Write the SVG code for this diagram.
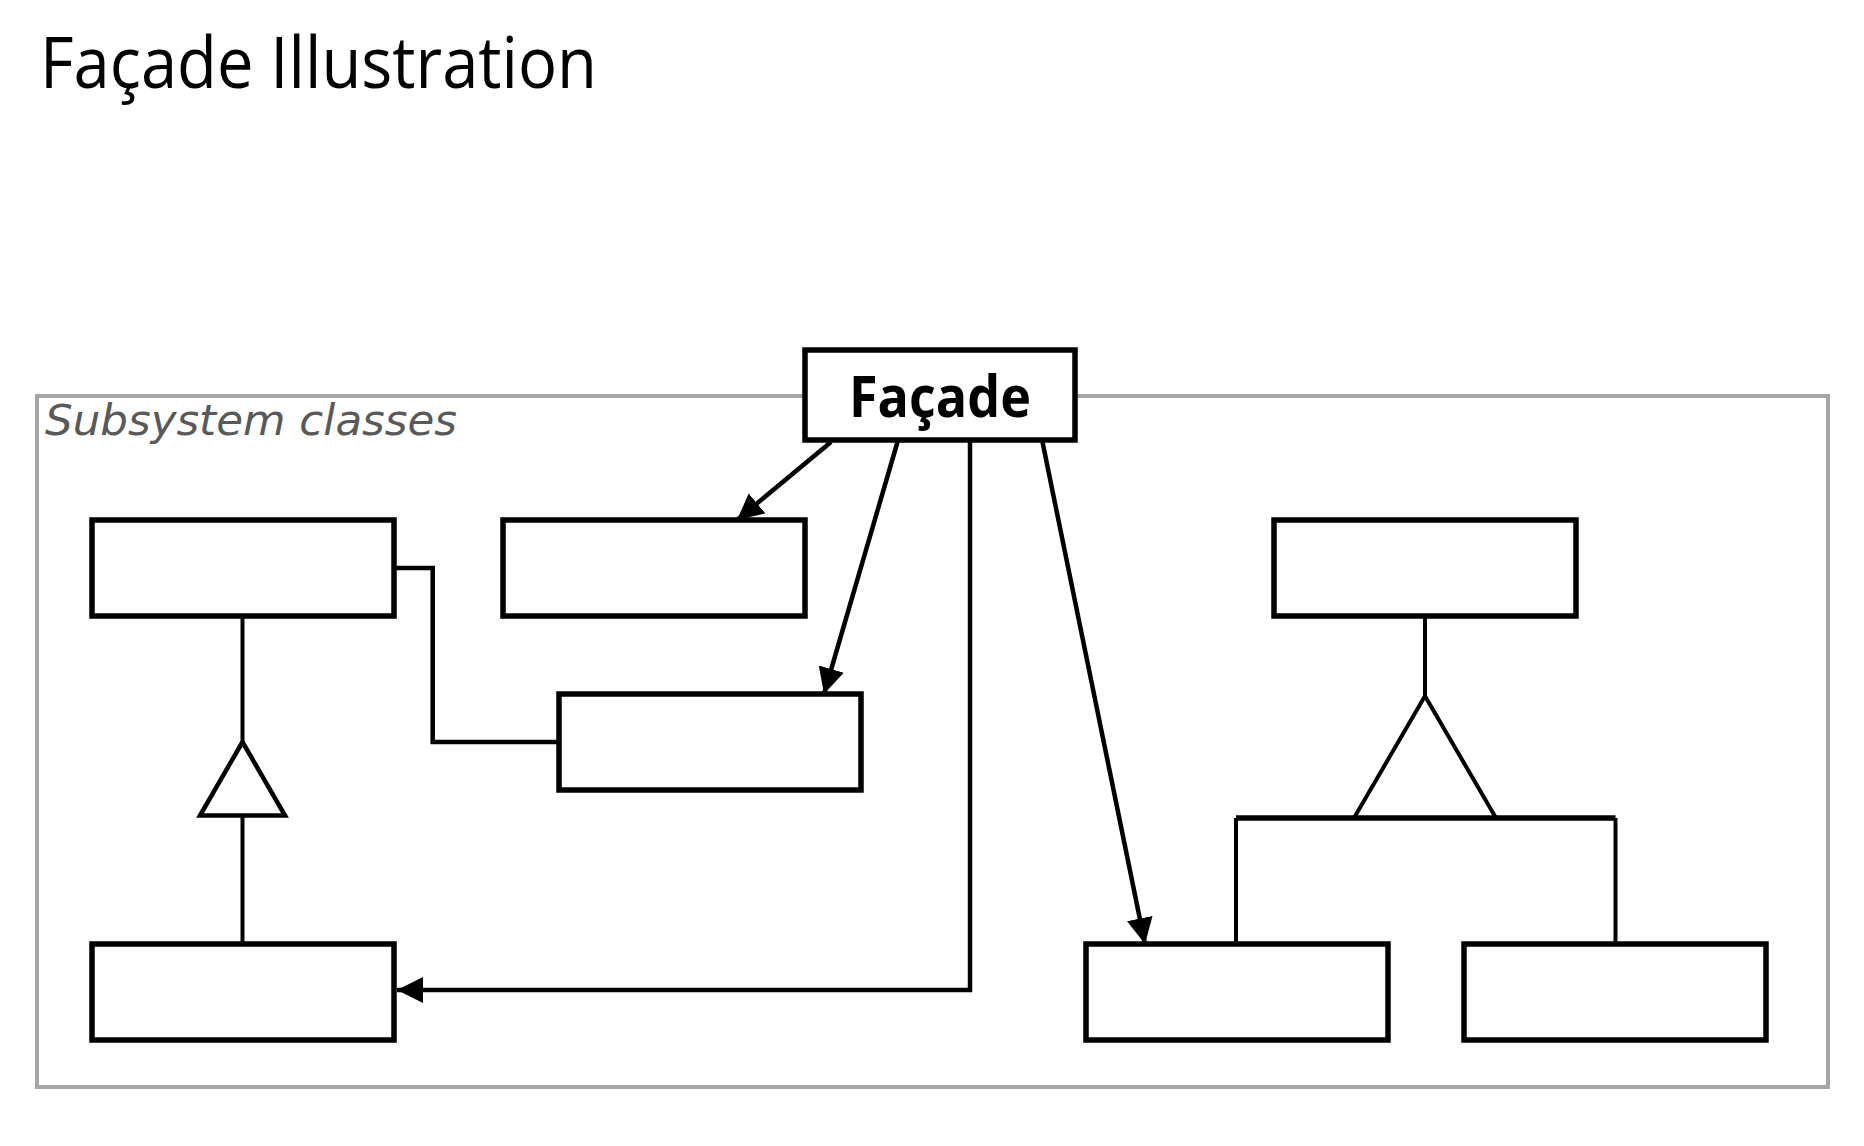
<svg xmlns="http://www.w3.org/2000/svg" width="1864" height="1146" viewBox="0 0 1864 1146">
<defs>
<style>
.box{fill:#ffffff;stroke:#000000;stroke-width:5.5;}
.conn{fill:none;stroke:#000000;stroke-width:4.5;}
.thin{fill:none;stroke:#000000;stroke-width:4;}
.tri{fill:#ffffff;stroke:#000000;stroke-width:4.5;stroke-linejoin:miter;}
.title{font-family:"Open Sans","Liberation Sans",Arial,sans-serif;font-size:71px;fill:#000000;}
.sub{font-family:"DejaVu Sans",Verdana,sans-serif;font-style:italic;font-size:43px;fill:#595959;}
.fac{font-family:"Open Sans","Liberation Sans",Arial,sans-serif;font-weight:bold;font-size:57px;fill:#000000;}
</style>
<marker id="arrow" markerUnits="userSpaceOnUse" markerWidth="28" markerHeight="28" refX="26" refY="13" orient="auto">
<path d="M0,0 L26,13 L0,26 z" fill="#000000"/>
</marker>
</defs>
<rect x="0" y="0" width="1864" height="1146" fill="#ffffff"/>
<text class="title" x="40" y="88" textLength="557" lengthAdjust="spacingAndGlyphs">Façade Illustration</text>
<g id="container">
<rect x="37" y="396" width="1791" height="691" fill="none" stroke="#a6a6a6" stroke-width="4"/>
<text class="sub" x="45" y="435" textLength="412" lengthAdjust="spacingAndGlyphs">Subsystem classes</text>
</g>
<g id="connectors">
<polyline class="conn" points="394,568 432.7,568 432.7,742 559,742"/>
<line class="thin" x1="242.5" y1="616" x2="242.5" y2="742"/>
<line class="thin" x1="242.5" y1="815.5" x2="242.5" y2="944"/>
<polygon class="tri" points="242.5,742 200,815.5 285,815.5"/>
<line class="thin" x1="1425" y1="616" x2="1425" y2="696"/>
<polyline class="thin" points="1354,818 1425,696 1496,818"/>
<line x1="1236" y1="818" x2="1615.5" y2="818" stroke="#000000" stroke-width="5.5"/>
<line class="thin" x1="1236" y1="818" x2="1236" y2="944"/>
<line class="thin" x1="1615.5" y1="818" x2="1615.5" y2="944"/>
<line class="conn" x1="831" y1="442" x2="737" y2="520" marker-end="url(#arrow)"/>
<line class="conn" x1="897.5" y1="442" x2="824" y2="694" marker-end="url(#arrow)"/>
<polyline class="conn" points="970,442 970,990 397,990" marker-end="url(#arrow)"/>
<line class="conn" x1="1042.5" y1="442" x2="1145" y2="944" marker-end="url(#arrow)"/>
</g>
<g id="boxA"><rect class="box" x="92" y="520" width="302" height="96"/></g>
<g id="boxB"><rect class="box" x="503" y="520" width="302" height="96"/></g>
<g id="boxC"><rect class="box" x="559" y="694" width="302" height="96"/></g>
<g id="boxD"><rect class="box" x="92" y="944" width="302" height="96"/></g>
<g id="boxE"><rect class="box" x="1274" y="520" width="302" height="96"/></g>
<g id="boxF"><rect class="box" x="1086" y="944" width="302" height="96"/></g>
<g id="boxG"><rect class="box" x="1464" y="944" width="302" height="96"/></g>
<g id="facade">
<rect class="box" x="805" y="350" width="270" height="90"/>
<text class="fac" x="849" y="417" textLength="182" lengthAdjust="spacingAndGlyphs">Façade</text>
</g>
</svg>
